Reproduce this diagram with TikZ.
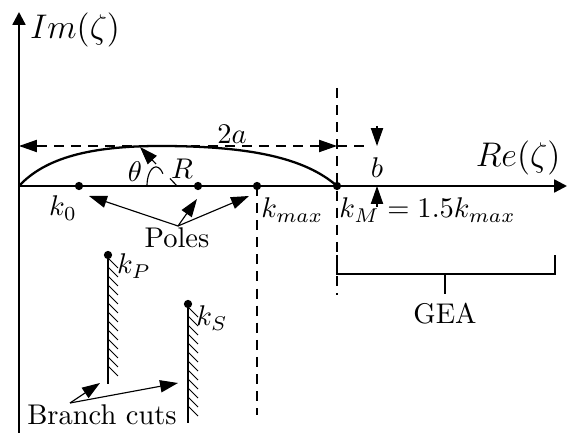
\documentclass[tikz,border=0pt]{standalone}
\usetikzlibrary{arrows.meta}
\begin{document}
\begin{tikzpicture}[x=0.351pt,y=-0.351pt,
  headtip/.tip={Triangle[length=6.3pt,width=4.3pt]},
  axtip/.tip={Triangle[length=4.5pt,width=4.5pt]},
  axis/.style={line width=0.8pt,-axtip},
  dimline/.style={line width=0.4pt,dash pattern=on 3.5pt off 2.5pt},
  ptr/.style={line width=0.4pt,-headtip},
  dot/.style={circle,fill,inner sep=0pt,minimum size=2.9pt},
  thickline/.style={line width=0.8pt},
  hatch/.style={line width=0.35pt},
  cut/.style={line width=0.6pt}]
\useasboundingbox (0,0) rectangle (568,433);
% axes
\coordinate (O) at (19,186);
\coordinate (imtop) at (19,12);
\coordinate (imbot) at (19,433);
\coordinate (retip) at (567,186);
\draw[axis] (imbot) -- (imtop);
\draw[axis] (O) -- (retip);
% dots
\node[dot] (k0) at (79,186) {};
\node[dot] (kR) at (198,186) {};
\node[dot] (kmax) at (257,186) {};
\node[dot] (kM) at (337,186) {};
\node[dot] (kP) at (108,255) {};
\node[dot] (kS) at (188,304) {};
% contour
\draw[thickline] (O) .. controls (45,158) and (90,146) .. (160,146)
  .. controls (250,146) and (305,158) .. (kM.center);
% 2a dimension
\coordinate (aL) at (19,146);
\coordinate (aR) at (337,146);
\coordinate (aE) at (367,146);
\draw[dimline,headtip-headtip] (aL) -- (aR);
\draw[dimline] (aR) -- (aE);
% vertical dashed lines
\coordinate (vMt) at (337,88);
\coordinate (vMb) at (337,295);
\draw[dimline] (vMt) -- (vMb);
\coordinate (vmb) at (257,415);
\draw[dimline] (kmax.center) -- (vmb);
% b dimension
\coordinate (bt) at (377,126);
\coordinate (bh) at (377,146);
\coordinate (bb) at (377,207);
\coordinate (bl) at (377,186);
\draw[ptr] (bt) -- (bh);
\draw[ptr] (bb) -- (bl);
% radius and angle
\coordinate (Rc) at (177,186);
\coordinate (Rs) at (170,178.5);
\coordinate (Ra) at (156,164);
\coordinate (Rtip) at (140,147);
\draw[line width=0.4pt] (Rc) -- (Rs);
\draw[ptr] (Ra) -- (Rtip);
\draw[line width=0.4pt] plot[domain=180:320,samples=30,smooth] ({156+9*cos(\x)},{186+19*sin(\x)});
% labels
\node (Im) at (75,30) {\large $Im(\zeta)$};
\node (Re) at (518,158) {\large $Re(\zeta)$};
\node (twoa) at (232,134) {$2a$};
\node (blab) at (377,168) {$b$};
\node (th) at (135,172) {$\theta$};
\node (Rl) at (182,169) {$R$};
\node (k0l) at (63,208) {$k_0$};
\node[anchor=west,inner sep=1pt] (kmaxl) at (258,210) {$k_{max}$};
\node[anchor=west,inner sep=1pt] (kMl) at (336,210) {$k_M = 1.5k_{max}$};
\node (poles) at (177,238) {Poles};
\node (kPl) at (134,266) {$k_P$};
\node (kSl) at (212,318) {$k_S$};
\node (GEA) at (445,314) {GEA};
\node (bc) at (102,415) {Branch cuts};
% pole arrows
\coordinate (pO) at (178,226);
\coordinate (p1) at (89,196);
\coordinate (p2) at (197,199);
\coordinate (p3) at (249,196);
\draw[ptr] (pO) -- (p1);
\draw[ptr] (pO) -- (p2);
\draw[ptr] (pO) -- (p3);
% branch cuts
\coordinate (cPb) at (108,384);
\coordinate (cSb) at (188,423);
\draw[cut] (kP.center) -- (cPb);
\draw[cut] (kS.center) -- (cSb);
\foreach \y in {258,267,...,374} \draw[hatch] (108,\y) -- (118,\y+10);
\foreach \y in {307,316,...,413} \draw[hatch] (188,\y) -- (198,\y+10);
\coordinate (bcO) at (70,403);
\coordinate (bc1) at (100,383);
\coordinate (bc2) at (178,383);
\draw[ptr] (bcO) -- (bc1);
\draw[ptr] (bcO) -- (bc2);
% GEA bracket
\coordinate (gL) at (337,255);
\coordinate (gLb) at (337,274);
\coordinate (gRb) at (555,274);
\coordinate (gR) at (555,255);
\coordinate (gM) at (445,274);
\coordinate (gMb) at (445,294);
\draw[thickline] (gL) -- (gLb) -- (gRb) -- (gR);
\draw[thickline] (gM) -- (gMb);
\end{tikzpicture}
\end{document}
